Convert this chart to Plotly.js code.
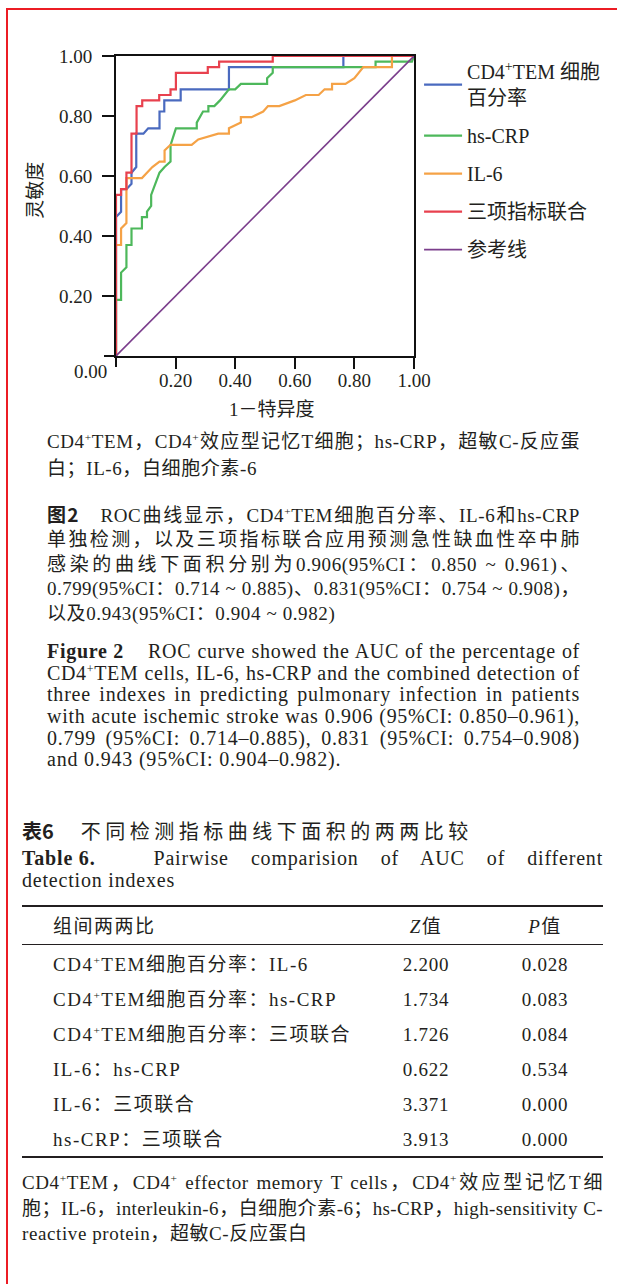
<!DOCTYPE html>
<html><head><meta charset="utf-8">
<script src="https://cdn.plot.ly/plotly-3.0.1.min.js"></script>
<style>
html,body{margin:0;padding:0;background:#fff;}
body{width:617px;height:1284px;position:relative;overflow:hidden;font-family:"Liberation Serif","Noto Sans CJK SC",serif;color:#231f20;}
#plot{position:absolute;left:0;top:0;width:617px;height:425px;}
.fl{position:absolute;left:6px;top:8px;width:2px;height:1276px;background:#ec1c24;}
.ft{position:absolute;left:6px;top:8px;width:611px;height:2px;background:#ec1c24;}
.blk{position:absolute;}
.ln{white-space:nowrap;}
.ln span{white-space:nowrap;}
sup{font-size:0.6em;vertical-align:0.6em;line-height:0;}
.cn{font-size:19px;letter-spacing:0.6px;}
.en{font-size:20px;letter-spacing:0.8px;}
.hb{font-family:"Noto Sans CJK SC",sans-serif;font-weight:700;letter-spacing:0;}
.ib{display:inline-block;}
.rule{position:absolute;left:22px;width:581px;background:#231f20;}
.cell{position:absolute;white-space:nowrap;font-size:19px;letter-spacing:1.5px;line-height:24px;}
</style>
</head><body>
<div class="fl"></div><div class="ft"></div>
<div id="plot"></div>

<div class="blk cn" style="left:47px;top:427.5px;width:533px;line-height:27px;">
 <div class="ln jl"><span>CD4<sup>+</sup>TEM，CD4<sup>+</sup>效应型记忆T细胞；hs-CRP，超敏C-反应蛋</span></div>
 <div class="ln"><span>白；IL-6，白细胞介素-6</span></div>
</div>

<div class="blk cn" style="left:47px;top:501.75px;width:533px;line-height:24.5px;">
 <div class="ln jl"><span><b class="hb">图2</b>　ROC曲线显示，CD4<sup>+</sup>TEM细胞百分率、IL-6和hs-CRP</span></div>
 <div class="ln jl"><span>单独检测，以及三项指标联合应用预测急性缺血性卒中肺</span></div>
 <div class="ln jl"><span>感染的曲线下面积分别为0.906(95%CI：0.850 ~ 0.961)、</span></div>
 <div class="ln jl"><span>0.799(95%CI：0.714 ~ 0.885)、0.831(95%CI：0.754 ~ 0.908)，</span></div>
 <div class="ln"><span>以及0.943(95%CI：0.904 ~ 0.982)</span></div>
</div>

<div class="blk en" style="left:47px;top:641.2px;width:533px;line-height:21.6px;">
 <div class="ln jl"><span><b class="ib">Figure 2</b><span class="ib" style="width:24px;"></span>ROC curve showed the AUC of the percentage of</span></div>
 <div class="ln jl"><span>CD4<sup>+</sup>TEM cells, IL-6, hs-CRP and the combined detection of</span></div>
 <div class="ln jl"><span>three indexes in predicting pulmonary infection in patients</span></div>
 <div class="ln jl"><span>with acute ischemic stroke was 0.906 (95%CI: 0.850–0.961),</span></div>
 <div class="ln jl"><span>0.799 (95%CI: 0.714–0.885), 0.831 (95%CI: 0.754–0.908)</span></div>
 <div class="ln"><span>and 0.943 (95%CI: 0.904–0.982).</span></div>
</div>

<div class="blk" style="left:22px;top:817.5px;width:581px;line-height:25px;font-size:20px;">
 <div class="ln"><span><b class="hb">表6</b><span class="ib" style="width:27px;"></span><span style="letter-spacing:4.5px;">不同检测指标曲线下面积的两两比较</span></span></div>
</div>

<div class="blk en" style="left:22px;top:847px;width:581px;line-height:22px;">
 <div class="ln jl"><span><b class="ib">Table 6.</b><span class="ib" style="width:58px;"></span>Pairwise comparision of AUC of different</span></div>
 <div class="ln"><span>detection indexes</span></div>
</div>

<div id="table"></div>

<div class="blk cn" style="left:22px;top:1170.25px;width:581px;line-height:25.5px;">
 <div class="ln jl"><span>CD4<sup>+</sup>TEM，CD4<sup>+</sup> effector memory T cells，CD4<sup>+</sup>效应型记忆T细</span></div>
 <div class="ln jl"><span>胞；IL-6，interleukin-6，白细胞介素-6；hs-CRP，high-sensitivity C-</span></div>
 <div class="ln"><span>reactive protein，超敏C-反应蛋白</span></div>
</div>

<script>
// ---------------- ROC data ----------------
const fprCD4 = [0, 0, 0.017, 0.017, 0.035, 0.052, 0.052, 0.068, 0.068, 0.092, 0.108, 0.146, 0.146, 0.162, 0.162, 0.217, 0.217, 0.379, 0.379, 0.763, 0.763, 1];
const tprCD4 = [0, 0.463, 0.481, 0.556, 0.556, 0.574, 0.611, 0.630, 0.741, 0.741, 0.759, 0.759, 0.815, 0.815, 0.852, 0.852, 0.889, 0.889, 0.963, 0.963, 1, 1];

const fprCRP = [0, 0, 0.017, 0.017, 0.035, 0.035, 0.052, 0.052, 0.087, 0.087, 0.104, 0.104, 0.118, 0.118, 0.146, 0.163, 0.183, 0.183, 0.201, 0.271, 0.271, 0.292, 0.310, 0.310, 0.330, 0.349, 0.379, 0.400, 0.419, 0.507, 0.507, 0.526, 0.526, 0.871, 0.871, 0.993, 1];
const tprCRP = [0, 0.187, 0.187, 0.278, 0.296, 0.370, 0.370, 0.425, 0.425, 0.463, 0.463, 0.481, 0.500, 0.537, 0.611, 0.630, 0.648, 0.703, 0.759, 0.759, 0.778, 0.815, 0.815, 0.833, 0.833, 0.852, 0.889, 0.889, 0.907, 0.907, 0.926, 0.944, 0.963, 0.963, 0.981, 0.981, 1];

const fprIL6 = [0, 0, 0.017, 0.017, 0.035, 0.035, 0.087, 0.104, 0.122, 0.146, 0.163, 0.163, 0.183, 0.254, 0.276, 0.343, 0.379, 0.379, 0.419, 0.419, 0.455, 0.494, 0.510, 0.548, 0.600, 0.637, 0.680, 0.700, 0.725, 0.725, 0.770, 0.800, 0.830, 0.926, 0.926, 1];
const tprIL6 = [0, 0.370, 0.370, 0.425, 0.443, 0.593, 0.593, 0.611, 0.630, 0.648, 0.648, 0.685, 0.704, 0.704, 0.722, 0.741, 0.741, 0.759, 0.778, 0.796, 0.796, 0.815, 0.833, 0.833, 0.852, 0.870, 0.870, 0.889, 0.889, 0.907, 0.907, 0.926, 0.963, 0.963, 1, 1];

const fprComb = [0, 0, 0.017, 0.017, 0.035, 0.035, 0.052, 0.052, 0.069, 0.069, 0.088, 0.088, 0.145, 0.145, 0.183, 0.183, 0.201, 0.201, 0.308, 0.308, 0.346, 0.346, 0.526, 0.526, 1];
const tprComb = [0, 0.537, 0.537, 0.556, 0.556, 0.611, 0.611, 0.741, 0.741, 0.833, 0.833, 0.852, 0.852, 0.870, 0.870, 0.889, 0.889, 0.944, 0.944, 0.963, 0.963, 0.981, 0.981, 1, 1];

const refX = [0, 1];
const refY = [0, 1];

const seriesNames = ['CD4<sup>+</sup>TEM 细胞<br>百分率', 'hs-CRP', 'IL-6', '三项指标联合', '参考线'];
const seriesColors = ['#4a6abf', '#4db85b', '#f5a246', '#e8414e', '#7b3e8c'];

const tickVals = [0.2, 0.4, 0.6, 0.8, 1.0];
const tickText = ['0.20', '0.40', '0.60', '0.80', '1.00'];
const originLabel = '0.00';
const xTitle = '1－特异度';
const yTitle = '灵敏度';

// ---------------- Table data ----------------
const tableHead = ['组间两两比', '<i>Z</i>值', '<i>P</i>值'];
const comparisons = ['CD4<sup>+</sup>TEM细胞百分率：IL-6', 'CD4<sup>+</sup>TEM细胞百分率：hs-CRP', 'CD4<sup>+</sup>TEM细胞百分率：三项联合', 'IL-6：hs-CRP', 'IL-6：三项联合', 'hs-CRP：三项联合'];
const zValues = [2.200, 1.734, 1.726, 0.622, 3.371, 3.913];
const pValues = [0.028, 0.083, 0.084, 0.534, 0.000, 0.000];

// ---------------- Plot ----------------
const FONT = 'Liberation Serif, Noto Sans CJK SC, serif';
const TXT = '#231f20';
const AX = '#111';
const xs = [fprCD4, fprCRP, fprIL6, fprComb, refX];
const ys = [tprCD4, tprCRP, tprIL6, tprComb, refY];
const traces = xs.map((x, i) => ({
  type: 'scatter', mode: 'lines', x: x, y: ys[i], name: seriesNames[i],
  legendgroup: 'g' + i,
  line: {color: seriesColors[i], width: i === 4 ? 1.6 : 2.2},
  hoverinfo: 'skip'
}));

const axisCommon = {
  range: [0, 1], tickvals: tickVals, ticktext: tickText,
  showgrid: false, zeroline: false, showline: true, mirror: true,
  linecolor: AX, linewidth: 2, ticks: 'outside', ticklen: 11,
  tickwidth: 2, tickcolor: AX, fixedrange: true,
  tickfont: {family: FONT, size: 19, color: TXT}
};

const layout = {
  width: 617, height: 425,
  margin: {l: 116, r: 201, t: 56, b: 69, pad: 0},
  paper_bgcolor: 'rgba(0,0,0,0)', plot_bgcolor: 'rgba(0,0,0,0)',
  font: {family: FONT, color: TXT},
  xaxis: Object.assign({}, axisCommon, {ticklabelstandoff: -5}),
  yaxis: Object.assign({}, axisCommon, {ticklen: 12, ticklabelstandoff: 6}),
  showlegend: true,
  legend: {
    x: 1.017, xanchor: 'left', y: 1.013, yanchor: 'top',
    font: {family: FONT, size: 20, color: TXT},
    bgcolor: 'rgba(0,0,0,0)', borderwidth: 0,
    itemwidth: 38,
    tracegroupgap: 9, traceorder: 'grouped'
  },
  shapes: [
    // tick stubs at the origin (0 on each axis)
    {type: 'line', xref: 'paper', yref: 'paper', x0: 0, x1: 0, ysizemode: 'pixel', yanchor: 0, y0: 0, y1: -11,
     line: {color: AX, width: 2}, layer: 'above'},
    {type: 'line', yref: 'paper', xref: 'paper', y0: 0, y1: 0, xsizemode: 'pixel', xanchor: 0, x0: 0, x1: -12,
     line: {color: AX, width: 2}, layer: 'above'}
  ],
  annotations: [
    {text: xTitle, xref: 'paper', yref: 'paper', x: 0.523, y: -0.177, xanchor: 'center', yanchor: 'middle',
     showarrow: false, font: {family: FONT, size: 19, color: TXT}},
    {text: yTitle, xref: 'paper', yref: 'paper', x: -0.27, y: 0.553, xanchor: 'center', yanchor: 'middle',
     textangle: -90, showarrow: false, font: {family: FONT, size: 19, color: TXT}},
    {text: originLabel, xref: 'paper', yref: 'paper', x: -0.084, y: -0.053, xanchor: 'center', yanchor: 'middle',
     showarrow: false, font: {family: FONT, size: 19, color: TXT}}
  ]
};

Plotly.newPlot('plot', traces, layout, {displayModeBar: false, staticPlot: true});

// ---------------- Table ----------------
(function buildTable() {
  const host = document.getElementById('table');
  const colX = [53, 426, 545];       // left of col1, centers of col2/col3
  const headY = 927, firstRowY = 965, rowStep = 34.9;
  const rules = [[905, 2], [943.5, 1], [1156, 2.2]];
  rules.forEach(r => {
    const d = document.createElement('div');
    d.className = 'rule'; d.style.top = r[0] + 'px'; d.style.height = r[1] + 'px';
    host.appendChild(d);
  });
  function cell(html, x, yc, center, ls) {
    const d = document.createElement('div');
    d.className = 'cell'; d.innerHTML = html;
    d.style.top = (yc - 12) + 'px';
    if (center) { d.style.left = (x - 60) + 'px'; d.style.width = '120px'; d.style.textAlign = 'center'; d.style.letterSpacing = ls + 'px'; }
    else d.style.left = x + 'px';
    host.appendChild(d);
  }
  cell(tableHead[0], colX[0], headY, false);
  cell(tableHead[1], colX[1], headY, true, 1.5);
  cell(tableHead[2], colX[2], headY, true, 1.5);
  comparisons.forEach((c, i) => {
    const yc = firstRowY + i * rowStep;
    cell(c, colX[0], yc, false);
    cell(zValues[i].toFixed(3), colX[1], yc, true, 0.8);
    cell(pValues[i].toFixed(3), colX[2], yc, true, 0.8);
  });
})();

// ---------------- justify full lines ----------------
document.querySelectorAll('.jl').forEach(el => {
  const target = el.getBoundingClientRect().width;
  const span = el.firstElementChild;
  let w = span.getBoundingClientRect().width;
  if (w > target - 2) {
    const n = span.textContent.length;
    let ls = parseFloat(getComputedStyle(span).letterSpacing) || 0;
    let nls = ls - (w - target + 3) / n;
    if (nls >= 0) {
      span.style.letterSpacing = nls + 'px';
    } else {
      span.style.letterSpacing = '0px';
      w = span.getBoundingClientRect().width;
      if (w > target - 2) {
        const fs = parseFloat(getComputedStyle(span).fontSize);
        span.style.fontSize = (fs * (target - 3) / w) + 'px';
      }
    }
  }
  el.style.whiteSpace = 'normal';
  span.style.whiteSpace = 'normal';
  el.style.textAlign = 'justify';
  el.style.textAlignLast = 'justify';
});
</script>
</body></html>
